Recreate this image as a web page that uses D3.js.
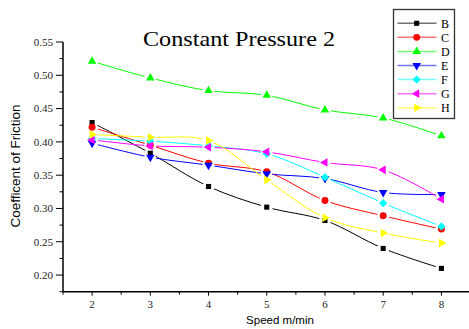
<!DOCTYPE html>
<html>
<head>
<meta charset="utf-8">
<script src="https://d3js.org/d3.v7.min.js"></script>
<style>
  body { margin: 0; background: #fff; }
</style>
</head>
<body>
<div id="chart"></div>
<script>
// data
var speeds = [2, 3, 4, 5, 6, 7, 8];
var B = [0.429, 0.383, 0.333, 0.302, 0.282, 0.240, 0.210];
var C = [0.422, 0.395, 0.368, 0.355, 0.312, 0.289, 0.269];
var D = [0.521, 0.496, 0.477, 0.470, 0.448, 0.436, 0.409];
var E = [0.398, 0.377, 0.365, 0.352, 0.345, 0.324, 0.321];
var F = [0.405, 0.401, 0.394, 0.382, 0.347, 0.308, 0.273];
var G = [0.403, 0.394, 0.392, 0.385, 0.369, 0.358, 0.314];
var H = [0.411, 0.407, 0.402, 0.343, 0.286, 0.263, 0.248];
var seriesNames = ["B", "C", "D", "E", "F", "G", "H"];
var yTicks = [0.20, 0.25, 0.30, 0.35, 0.40, 0.45, 0.50, 0.55];

var series = [
  {name: "B", values: B, color: "#000000", shape: "square"},
  {name: "C", values: C, color: "#ff0000", shape: "circle"},
  {name: "D", values: D, color: "#00ff00", shape: "up"},
  {name: "E", values: E, color: "#0000ff", shape: "down"},
  {name: "F", values: F, color: "#00ffff", shape: "diamond"},
  {name: "G", values: G, color: "#ff00ff", shape: "left"},
  {name: "H", values: H, color: "#ffff00", shape: "right"}
];

var W = 469, Ht = 329;
var svg = d3.select("#chart").append("svg")
    .attr("width", W).attr("height", Ht);
var defs = svg.append("defs");

var x = d3.scaleLinear().domain([1.5, 8.5]).range([63, 470.5]);
var y = d3.scaleLinear().domain([0.175, 0.55]).range([291.7, 42]);

var serif = "'Liberation Serif', 'Times New Roman', serif";
var sans = "'Liberation Sans', Arial, sans-serif";

// marker path generator
function marker(shape) {
  if (shape == "square") return {d: d3.symbol(d3.symbolSquare, 26)(), rot: 0};
  if (shape == "circle") return {d: d3.symbol(d3.symbolCircle, 38)(), rot: 0};
  if (shape == "diamond") return {d: d3.symbol(d3.symbolSquare, 34)(), rot: 45};
  var rot = {up: 0, down: 180, left: -90, right: 90}[shape];
  return {d: d3.symbol(d3.symbolTriangle, 32)(), rot: rot};
}

// lines (with small gaps around their own markers, like the original)
var line = d3.line()
  .x(function(d, i) { return x(speeds[i]); })
  .y(function(d) { return y(d); })
  .curve(d3.curveCatmullRom.alpha(0.5));

series.forEach(function(s, k) {
  var mask = defs.append("mask").attr("id", "gap" + k)
    .attr("maskUnits", "userSpaceOnUse")
    .attr("x", 0).attr("y", 0).attr("width", W).attr("height", Ht);
  mask.append("rect").attr("width", W).attr("height", Ht).attr("fill", "#fff");
  mask.selectAll("circle")
    .data(s.values)
    .enter()
    .append("circle")
      .attr("cx", function(d, i) { return x(speeds[i]); })
      .attr("cy", function(d) { return y(d); })
      .attr("r", 6)
      .attr("fill", "#000");

  svg.append("path")
    .datum(s.values)
    .attr("fill", "none")
    .attr("stroke", s.color)
    .attr("stroke-width", 1)
    .attr("mask", "url(#gap" + k + ")")
    .attr("d", line);
});

series.forEach(function(s) {
  var m = marker(s.shape);
  svg.selectAll(null)
    .data(s.values)
    .enter()
    .append("path")
      .attr("d", m.d)
      .attr("fill", s.color)
      .attr("transform", function(d, i) {
        return "translate(" + x(speeds[i]) + "," + y(d) + ") rotate(" + m.rot + ")";
      });
});

// y axis
var yAxis = svg.append("g")
  .attr("transform", "translate(63,0)");
yAxis.append("line")
  .attr("x1", 0).attr("x2", 0)
  .attr("y1", y(0.55)).attr("y2", y(0.175))
  .attr("stroke", "#000").attr("stroke-width", 1.5);
d3.range(0.175, 0.551, 0.025).forEach(function(v) {
  var major = Math.abs(Math.round(v * 100) % 5) < 0.01;
  yAxis.append("line")
    .attr("x1", major ? -7 : -3.5).attr("x2", 0)
    .attr("y1", y(v)).attr("y2", y(v))
    .attr("stroke", "#000").attr("stroke-width", 1);
});
yAxis.selectAll("text.tick")
  .data(yTicks)
  .enter()
  .append("text")
    .attr("x", -10)
    .attr("y", function(d) { return y(d); })
    .attr("dy", "0.35em")
    .attr("text-anchor", "end")
    .style("font-family", serif)
    .style("font-size", "11px")
    .attr("fill", "#222")
    .text(function(d) { return d.toFixed(2); });

// x axis
var xAxis = svg.append("g")
  .attr("transform", "translate(0," + y(0.175) + ")");
xAxis.append("line")
  .attr("x1", 63).attr("x2", 470)
  .attr("stroke", "#000").attr("stroke-width", 1.5);
d3.range(1.5, 8.51, 0.5).forEach(function(v) {
  var major = Math.abs(v - Math.round(v)) < 0.01;
  xAxis.append("line")
    .attr("x1", x(v)).attr("x2", x(v))
    .attr("y1", 0).attr("y2", major ? 4 : 3)
    .attr("stroke", "#000").attr("stroke-width", 1);
});
xAxis.selectAll("text.tick")
  .data(speeds)
  .enter()
  .append("text")
    .attr("x", function(d) { return x(d); })
    .attr("y", 16)
    .attr("text-anchor", "middle")
    .style("font-family", serif)
    .style("font-size", "11px")
    .attr("fill", "#222")
    .text(function(d) { return d; });

// axis titles
svg.append("text")
  .attr("x", 280).attr("y", 324)
  .attr("text-anchor", "middle")
  .style("font-family", sans)
  .style("font-size", "11.5px")
  .text("Speed m/min");

svg.append("text")
  .attr("transform", "translate(20,166) rotate(-90)")
  .attr("text-anchor", "middle")
  .style("font-family", sans)
  .style("font-size", "13px")
  .attr("textLength", 123)
  .attr("lengthAdjust", "spacingAndGlyphs")
  .text("Coefficent of Friction");

// title
svg.append("text")
  .attr("x", 239).attr("y", 46)
  .attr("text-anchor", "middle")
  .style("font-family", serif)
  .style("font-size", "21px")
  .attr("textLength", 192)
  .attr("lengthAdjust", "spacingAndGlyphs")
  .text("Constant Pressure 2");

// legend
var legend = svg.append("g");
legend.append("rect")
  .attr("x", 393.5).attr("y", 9.5)
  .attr("width", 61).attr("height", 109)
  .attr("fill", "#fff")
  .attr("stroke", "#333").attr("stroke-width", 1.3);

series.forEach(function(s, i) {
  var ly = 23.3 + i * 14.07;
  var m = marker(s.shape);
  legend.append("line")
    .attr("x1", 397.5).attr("x2", 436.5)
    .attr("y1", ly).attr("y2", ly)
    .attr("stroke", s.color).attr("stroke-width", 1.5)
    .attr("stroke-opacity", 0.55);
  legend.append("path")
    .attr("d", m.d)
    .attr("fill", s.color)
    .attr("transform", "translate(416.7," + ly + ") rotate(" + m.rot + ")");
  legend.append("text")
    .attr("x", 441).attr("y", ly)
    .attr("dy", "0.35em")
    .style("font-family", serif)
    .style("font-size", "12px")
    .text(seriesNames[i]);
});
</script>
</body>
</html>
